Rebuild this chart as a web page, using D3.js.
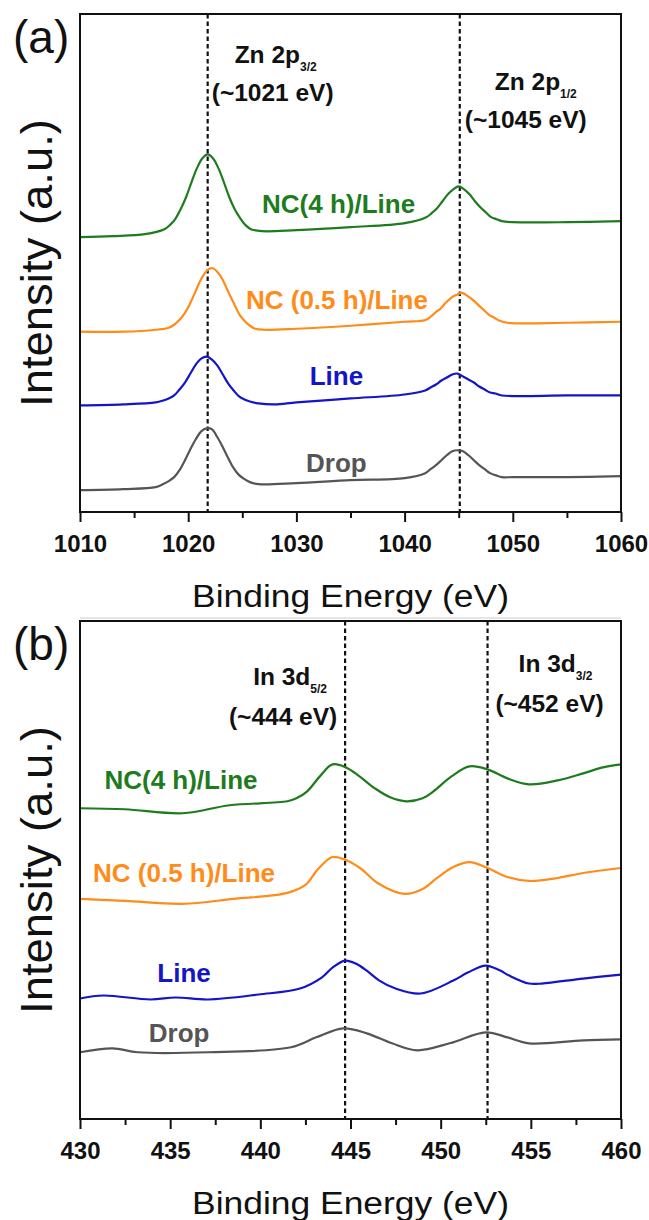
<!DOCTYPE html>
<html>
<head>
  <meta charset="utf-8" />
  <script src="https://d3js.org/d3.v7.min.js"></script>
  <style>
    body { margin: 0; background: #fff; }
    svg text { font-family: "Liberation Sans", Arial, sans-serif; }
  </style>
</head>
<body>
  <script>
    // ---- data (binding energy in eV, intensity in arbitrary units) ----
    var seriesNames = ["NC(4 h)/Line", "NC (0.5 h)/Line", "Line", "Drop"];
    var seriesColors = ["#1e7b1e", "#ff8c1a", "#1414c8", "#555555"];

    var znTicks = [1010, 1020, 1030, 1040, 1050, 1060];
    var znPeaks = [1021.8, 1045.1];

    var zn4h = [[1010,276],[1013,277],[1016,279],[1017.8,284],[1018.3,288],[1018.8,294],[1019.3,304],[1019.8,316],
      [1020.3,331],[1020.8,345],[1021.3,355],[1021.8,359],[1022.3,355],[1022.8,345],[1023.3,331],[1023.8,316],
      [1024.3,304],[1024.8,295],[1025.3,288],[1025.8,284],[1026.8,282],[1030,283],[1035,286],[1040,290],
      [1042,296],[1042.5,300],[1043,305],[1043.5,312],[1044,319],[1044.5,324],[1045,327],[1045.5,324],[1046,319],
      [1046.5,312],[1047,306],[1047.5,301],[1048,296],[1048.5,294],[1049,292],[1050,291],[1055,291],[1060,292]];

    var zn05h = [[1010,181],[1014,181],[1017,183],[1018.2,185],[1018.7,188],[1019.2,193],[1019.7,200],[1020.2,210],
      [1020.7,222],[1021.2,234],[1021.7,242],[1022.2,245],[1022.7,241],[1023.2,233],[1023.7,221],[1024.2,210],
      [1024.7,199],[1025.2,192],[1025.7,187],[1026.2,184],[1027,183],[1030,184],[1035,187],[1040,191],[1042,193],
      [1042.8,200],[1043.3,204],[1043.8,210],[1044.3,215],[1044.8,218],[1045.3,220],[1045.8,217],[1046.3,213],
      [1046.8,208],[1047.3,203],[1047.8,198],[1048.3,195],[1048.8,192],[1049.5,190],[1055,190],[1060,191]];

    var znLine = [[1010,107],[1014,108],[1017,110],[1017.7,112],[1018.2,114],[1018.7,117],[1019.2,123],[1019.7,130],
      [1020.2,139],[1020.7,148],[1021.2,154],[1021.7,156],[1022.2,153],[1022.7,147],[1023.2,138],[1023.7,129],
      [1024.2,122],[1024.7,116],[1025.2,113],[1025.7,111],[1026.5,109],[1028,108],[1030,110],[1035,114],[1040,118],
      [1041.9,122],[1042.4,125],[1042.9,128],[1043.4,132],[1043.9,135],[1044.4,138],[1044.9,139],[1045.4,136],
      [1045.9,133],[1046.4,130],[1046.9,126],[1047.4,123],[1047.9,120],[1048.4,119],[1049,117],[1055,117],[1060,117]];

    var znDrop = [[1010,22],[1014,23],[1017,25],[1017.7,28],[1018.2,31],[1018.7,35],[1019.2,42],[1019.7,52],
      [1020.2,63],[1020.7,73],[1021.2,81],[1021.7,84],[1022.2,83],[1022.7,75],[1023.2,65],[1023.7,54],
      [1024.2,44],[1024.7,37],[1025.2,33],[1025.7,30],[1026.5,28],[1030,29],[1035,32],[1040,34],
      [1041.9,39],[1042.4,43],[1042.9,47],[1043.4,52],[1043.9,57],[1044.4,61],[1044.9,62],[1045.4,61],
      [1045.9,57],[1046.4,52],[1046.9,47],[1047.4,43],[1047.9,39],[1048.4,37],[1049,35],[1050,35],[1055,35],[1060,36]];

    var inTicks = [430, 435, 440, 445, 450, 455, 460];
    var inPeaks = [444.7, 452.6];

    var in4h = [[430,312],[432.5,311],[435.7,307],[438.3,315],[441.5,319],[442,322],[442.6,329],[443.3,344],
      [444,356],[444.75,353],[445.5,344],[446.35,332],[447.2,323],[448.1,319],[449,322],[449.6,329],[450.6,344],
      [451.6,354],[452.6,351],[453.7,342],[454.9,336],[456.5,340],[457.9,347],[459,353],[460,356]];

    var in05h = [[430,221],[432.5,219],[435.7,216],[438.5,221],[441.5,227],[442.5,235],[443.2,251],[444,263],
      [444.75,260],[445.6,251],[446.5,237],[448,226],[449,231],[449.8,242],[450.7,253],[451.6,258],[452.6,252],
      [453.7,243],[454.9,239],[456.5,242],[457.9,247],[460,252]];

    var inLine = [[430,121],[431.3,124],[433.9,120],[435.3,122],[437.1,120],[439.9,125],[442.2,131],[443.4,142],
      [444,152],[444.7,159],[445.3,156],[445.9,149],[446.6,139],[447.5,131],[448.9,126],[450.7,139],[451.5,147],
      [452.5,154],[453.3,149],[453.8,144],[454.9,136],[455.6,136],[457.9,141],[460,145]];

    var inDrop = [[430,67],[431.8,71],[433.2,67],[437.1,67],[441.7,72],[443.1,82],[444.6,91],[445.9,86],
      [447.3,76],[448.7,69],[450.5,76],[452.5,87],[453.7,82],[454.9,76],[457.9,79],[460,80]];

    // ---- layout ----
    var W = 649, H = 1220;
    var left = 80, right = 621, plotH = 498;

    var panels = [
      {
        tag: "(a)", top: 14, domain: [1010, 1060], ticks: znTicks, minorStep: 5,
        peaks: znPeaks, series: [zn4h, zn05h, znLine, znDrop],
        labelX: [1033.9, 1033.75, 1033.7, 1033.7], labelY: [300, 204, 128, 40],
        notes: [
          { main: "Zn 2p", sub: "3/2", val: "(~1021 eV)", dx: [68, 65], dy: [49, 87] },
          { main: "Zn 2p", sub: "1/2", val: "(~1045 eV)", dx: [76, 66], dy: [76, 114] }
        ]
      },
      {
        tag: "(b)", top: 621, domain: [430, 460], ticks: inTicks, minorStep: 2.5,
        peaks: inPeaks, series: [in4h, in05h, inLine, inDrop],
        labelX: [435.6, 435.77, 435.77, 435.5], labelY: [331, 238, 138, 77],
        notes: [
          { main: "In 3d", sub: "5/2", val: "(~444 eV)", dx: [-55, -62], dy: [64, 104] },
          { main: "In 3d", sub: "3/2", val: "(~452 eV)", dx: [68, 62], dy: [51, 91] }
        ]
      }
    ];

    var svg = d3.select("body").append("svg")
      .attr("width", W)
      .attr("height", H);

    panels.forEach(function (p) {
      var bottom = p.top + plotH;
      var x = d3.scaleLinear().domain(p.domain).range([left, right]);
      var y = d3.scaleLinear().domain([0, 500]).range([bottom, bottom - plotH]);

      var g = svg.append("g");

      // dashed peak markers
      g.selectAll(".peak")
        .data(p.peaks)
        .enter().append("line")
        .attr("x1", function (d) { return x(d); })
        .attr("x2", function (d) { return x(d); })
        .attr("y1", p.top)
        .attr("y2", bottom)
        .attr("stroke", "#111")
        .attr("stroke-width", 2.2)
        .attr("stroke-dasharray", "4.5,3");

      // spectra
      var line = d3.line()
        .x(function (d) { return x(d[0]); })
        .y(function (d) { return y(d[1]); })
        .curve(d3.curveCatmullRom.alpha(0.5));

      g.selectAll(".spec")
        .data(p.series)
        .enter().append("path")
        .attr("d", line)
        .attr("fill", "none")
        .attr("stroke", function (d, i) { return seriesColors[i]; })
        .attr("stroke-width", 2.2);

      // curve labels
      g.selectAll(".lab")
        .data(seriesNames)
        .enter().append("text")
        .attr("x", function (d, i) { return x(p.labelX[i]); })
        .attr("y", function (d, i) { return y(p.labelY[i]); })
        .attr("text-anchor", "middle")
        .attr("font-size", 26)
        .attr("font-weight", "bold")
        .attr("fill", function (d, i) { return seriesColors[i]; })
        .text(function (d) { return d; });

      // peak annotations
      p.notes.forEach(function (n, i) {
        var px = x(p.peaks[i]);
        var t = g.append("text")
          .attr("x", px + n.dx[0])
          .attr("y", p.top + n.dy[0])
          .attr("text-anchor", "middle")
          .attr("font-size", 24.5)
          .attr("font-weight", "bold")
          .attr("fill", "#111");
        t.append("tspan").text(n.main);
        t.append("tspan")
          .attr("font-size", 12)
          .attr("dy", 8)
          .text(n.sub);
        g.append("text")
          .attr("x", px + n.dx[1])
          .attr("y", p.top + n.dy[1])
          .attr("text-anchor", "middle")
          .attr("font-size", 24.5)
          .attr("font-weight", "bold")
          .attr("fill", "#111")
          .text(n.val);
      });

      // minor ticks
      var minor = d3.range(p.domain[0], p.domain[1] + 0.001, p.minorStep)
        .filter(function (v) { return p.ticks.indexOf(v) < 0; });
      g.append("g")
        .attr("transform", "translate(0," + bottom + ")")
        .call(d3.axisBottom(x).tickValues(minor).tickSize(6).tickFormat(""))
        .call(function (a) {
          a.select(".domain").remove();
          a.selectAll("line").attr("stroke", "#111").attr("stroke-width", 2);
        });

      // major ticks + labels
      g.append("g")
        .attr("transform", "translate(0," + bottom + ")")
        .call(d3.axisBottom(x).tickValues(p.ticks).tickSize(10).tickPadding(13).tickFormat(d3.format("d")))
        .call(function (a) {
          a.select(".domain").remove();
          a.selectAll("line").attr("stroke", "#111").attr("stroke-width", 2);
          a.selectAll("text")
            .attr("font-size", 24)
            .attr("font-weight", "bold")
            .attr("fill", "#111")
            .style("font-family", "'Liberation Sans', Arial, sans-serif");
        });

      // frame
      g.append("rect")
        .attr("x", left)
        .attr("y", p.top)
        .attr("width", right - left)
        .attr("height", plotH)
        .attr("fill", "none")
        .attr("stroke", "#111")
        .attr("stroke-width", 2);

      // axis titles
      g.append("text")
        .attr("x", (left + right) / 2)
        .attr("y", bottom + 95)
        .attr("text-anchor", "middle")
        .attr("font-size", 31)
        .attr("textLength", 317)
        .attr("lengthAdjust", "spacingAndGlyphs")
        .attr("fill", "#111")
        .text("Binding Energy (eV)");

      g.append("text")
        .attr("transform", "translate(52," + (p.top + plotH / 2) + ") rotate(-90)")
        .attr("text-anchor", "middle")
        .attr("font-size", 45)
        .attr("textLength", 288)
        .attr("lengthAdjust", "spacingAndGlyphs")
        .attr("fill", "#111")
        .text("Intensity (a.u.)");

      // panel tag
      g.append("text")
        .attr("x", 13)
        .attr("y", p.top + 39)
        .attr("font-size", 46)
        .attr("fill", "#111")
        .text(p.tag);
    });

    // faint separator between the panels
    svg.append("line")
      .attr("x1", left).attr("x2", right)
      .attr("y1", 618).attr("y2", 618)
      .attr("stroke", "#cccccc")
      .attr("stroke-width", 1);
  </script>
</body>
</html>
